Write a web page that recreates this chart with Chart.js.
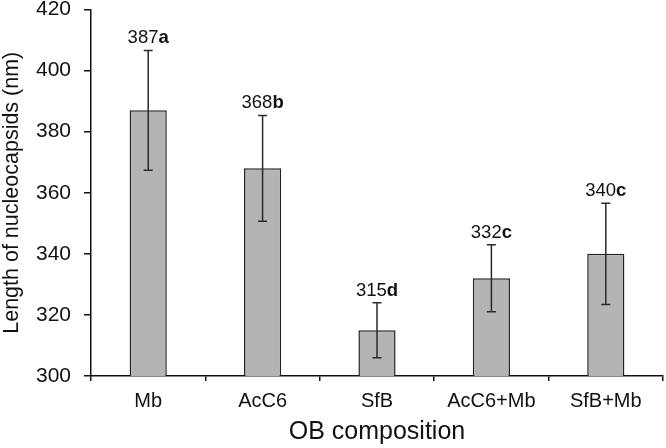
<!DOCTYPE html>
<html>
<head>
<meta charset="utf-8">
<script src="https://cdn.jsdelivr.net/npm/chart.js@4.4.1/dist/chart.umd.min.js"></script>
<style>
  html, body { margin: 0; padding: 0; background: #fff; }
  #wrap { width: 666px; height: 448px; position: relative; }
</style>
</head>
<body>
<div id="wrap"><canvas id="c" width="666" height="448"></canvas></div>
<script>
const categories = ["Mb", "AcC6", "SfB", "AcC6+Mb", "SfB+Mb"];
const means = [387, 368, 315, 332, 340];
const errors = [19.6, 17.3, 9, 11, 16.6];
const letters = ["a", "b", "d", "c", "c"];
const yTicks = [300, 320, 340, 360, 380, 400, 420];

const FONT = "'Liberation Sans', Arial, Helvetica, sans-serif";

const errorBarPlugin = {
  id: 'errorBars',
  afterDatasetsDraw(chart) {
    const ctx = chart.ctx;
    const meta = chart.getDatasetMeta(0);
    const y = chart.scales.y;
    ctx.save();
    meta.data.forEach((bar, i) => {
      const x = bar.x;
      const top = y.getPixelForValue(means[i] + errors[i]);
      const bot = y.getPixelForValue(means[i] - errors[i]);
      ctx.strokeStyle = '#2a2a2a';
      ctx.lineWidth = 1.5;
      ctx.beginPath();
      ctx.moveTo(x, top); ctx.lineTo(x, bot);
      ctx.moveTo(x - 4.5, top); ctx.lineTo(x + 4.5, top);
      ctx.moveTo(x - 4.5, bot); ctx.lineTo(x + 4.5, bot);
      ctx.stroke();

      const num = String(means[i]);
      const fNorm = "18.5px " + FONT;
      const fBold = "bold 18.5px " + FONT;
      ctx.font = fNorm;
      const wNum = ctx.measureText(num).width;
      ctx.font = fBold;
      const wLet = ctx.measureText(letters[i]).width;
      const total = wNum + wLet;
      const sx = x - total / 2;
      const by = top - 7;
      ctx.fillStyle = '#111';
      ctx.textAlign = 'left';
      ctx.textBaseline = 'alphabetic';
      ctx.font = fNorm;
      ctx.fillText(num, sx, by);
      ctx.font = fBold;
      ctx.fillText(letters[i], sx + wNum, by);
    });
    ctx.restore();
  }
};

new Chart(document.getElementById('c'), {
  type: 'bar',
  data: {
    labels: categories,
    datasets: [{
      data: means,
      backgroundColor: '#b4b4b4',
      borderColor: '#222',
      borderWidth: 1.5,
      categoryPercentage: 1.0,
      barPercentage: 0.325
    }]
  },
  options: {
    responsive: false,
    animation: false,
    devicePixelRatio: 1,
    layout: { padding: { top: 9.5, right: 3, left: 0, bottom: 0 } },
    plugins: { legend: { display: false }, tooltip: { enabled: false } },
    scales: {
      x: {
        grid: { display: true, drawOnChartArea: false, drawTicks: true, tickLength: 5, color: '#111', lineWidth: 1.5, offset: true },
        border: { display: true, color: '#111', width: 1.5 },
        ticks: { color: '#111', font: { family: FONT, size: 20 }, padding: 8, maxRotation: 0 },
        title: { display: true, text: 'OB composition', color: '#111', font: { family: FONT, size: 25 }, padding: { top: 0, bottom: 1 } },
        afterFit(scale) { scale.height = 72; scale.paddingLeft = 0; scale.paddingRight = 0; }
      },
      y: {
        min: 300, max: 420,
        afterBuildTicks(scale) { scale.ticks = yTicks.map(v => ({ value: v })); },
        grid: { display: true, drawOnChartArea: false, drawTicks: true, tickLength: 7, color: '#111', lineWidth: 1.5 },
        border: { display: true, color: '#111', width: 1.5 },
        ticks: { color: '#111', font: { family: FONT, size: 21 }, padding: 13 },
        title: { display: true, text: 'Length of nucleocapsids (nm)', color: '#111', font: { family: FONT, size: 21.5, lineHeight: 1.0 }, padding: { top: 1, bottom: 0 } },
        afterFit(scale) { scale.width = 91; scale.paddingTop = 0; scale.paddingBottom = 0; }
      }
    }
  },
  plugins: [errorBarPlugin]
});
</script>
</body>
</html>
